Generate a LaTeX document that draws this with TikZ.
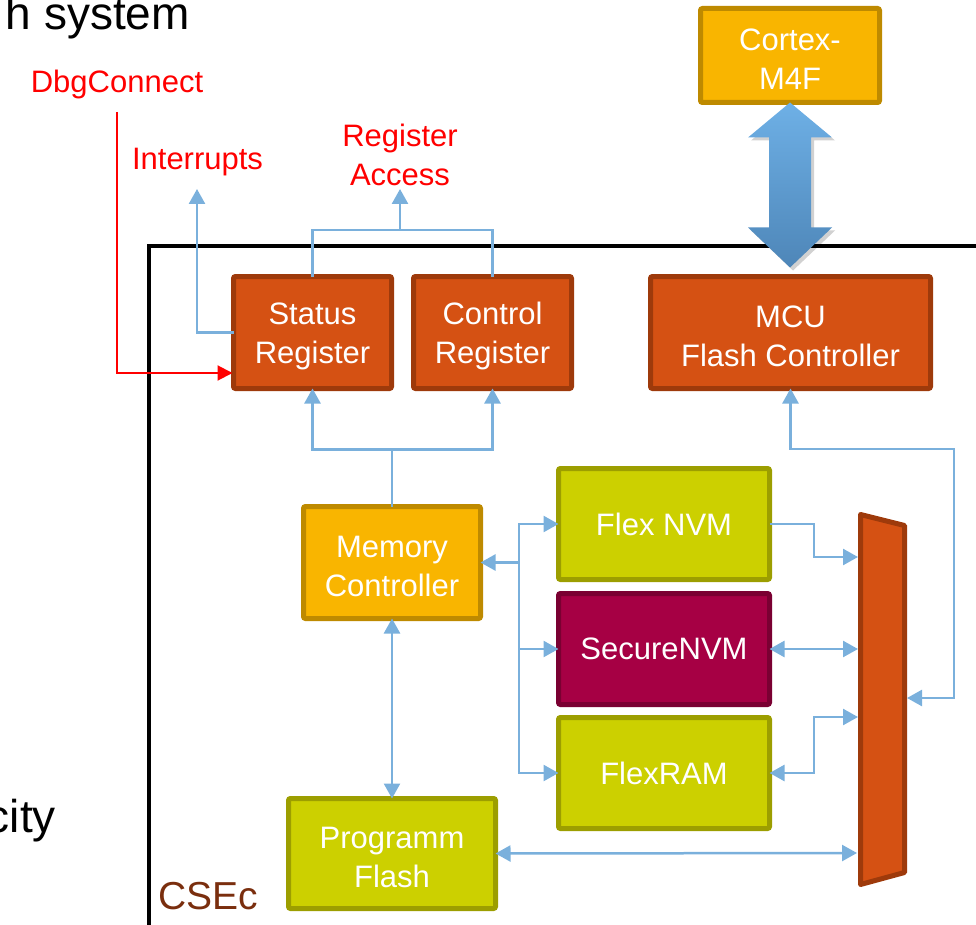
\documentclass[tikz,border=0pt]{standalone}
\usepackage{fontspec}
\setmainfont{Liberation Sans}
\usetikzlibrary{arrows.meta,calc}

\definecolor{regfill}{HTML}{D55113}
\definecolor{regedge}{HTML}{9E3A0B}
\definecolor{ambfill}{HTML}{F9B500}
\definecolor{ambedge}{HTML}{BE8A00}
\definecolor{limfill}{HTML}{CCD000}
\definecolor{limedge}{HTML}{9C9E00}
\definecolor{secfill}{HTML}{A60044}
\definecolor{secedge}{HTML}{7A0032}
\definecolor{wire}{HTML}{7AB0DC}
\definecolor{csec}{HTML}{7A2E0E}
\definecolor{bustop}{HTML}{6EB0E6}
\definecolor{busbot}{HTML}{4E86B8}

\newcommand{\boxfont}{\fontsize{31}{39}\selectfont}
\newcommand{\bigfont}{\fontsize{46}{52}\selectfont}
% extra head room on the first of two lines, so the pair sits a little lower
\newcommand{\toppad}{\rule{0pt}{29pt}}

\tikzset{
  block/.style={draw, line width=5pt, rounded corners=2pt, inner sep=0pt,
    outer sep=0pt, text=white, align=center, font=\boxfont},
  reg/.style={block, fill=regfill, draw=regedge},
  amb/.style={block, fill=ambfill, draw=ambedge},
  lim/.style={block, fill=limfill, draw=limedge},
  sec/.style={block, fill=secfill, draw=secedge},
  tip/.tip={Triangle[length=15pt,width=16pt]},
  conn/.style={draw=wire, line width=2.5pt},
  sig/.style={text=red, align=center, font=\boxfont},
}

\begin{document}
\begin{tikzpicture}[x=1pt,y=-1pt]
\useasboundingbox (0,0) rectangle (976,925);

% surrounding text
\node[anchor=base east, font=\bigfont, inner sep=0pt] (title) at (190,30) {h system};
\node[anchor=base east, font=\bigfont, inner sep=0pt] (city) at (56,832) {city};

% CSEc frame
\draw[line width=4pt] (149,930) -- (149,245.5) -- (980,245.5);
\node[anchor=base west, font=\fontsize{39}{44}\selectfont, text=csec, inner sep=0pt] (csec) at (158,909) {CSEc};

% blocks
\node[amb, minimum width=179pt, minimum height=94pt] (cortex) at (790,55.5) {\toppad Cortex-\\M4F};
\node[reg, minimum width=158pt, minimum height=112pt] (status) at (312.5,332.5) {\toppad Status\\Register};
\node[reg, minimum width=158pt, minimum height=112pt] (control) at (492.5,332.5) {\toppad Control\\Register};
\node[reg, minimum width=280pt, minimum height=112pt] (mcu) at (790.5,332.5) {\toppad MCU\\Flash Controller};
\node[amb, minimum width=177pt, minimum height=112pt] (memctl) at (392,562.5) {\toppad Memory\\Controller};
\node[lim, minimum width=211pt, minimum height=111pt] (flexnvm) at (664,524) {Flex NVM};
\node[sec, minimum width=211pt, minimum height=111pt] (secnvm) at (664,649) {SecureNVM};
\node[lim, minimum width=211pt, minimum height=111pt] (flexram) at (664,773) {FlexRAM};
\node[lim, minimum width=207pt, minimum height=110pt] (pflash) at (392,853.5) {\toppad Programm\\Flash};

% multiplexer
\draw[line width=5pt, draw=regedge, fill=regfill, line join=round]
  (860.5,514.5) -- (904.5,525.5) -- (904.5,872.5) -- (860.5,884.5) -- cycle;
\coordinate (muxA) at (858,557);
\coordinate (muxB) at (858,649);
\coordinate (muxC) at (858,717);
\coordinate (muxD) at (857,853);
\coordinate (muxE) at (907,698);

% signal labels
\node[sig] (dbglbl) at (117,84.5) {DbgConnect};
\node[sig] (intlbl) at (197.5,162) {Interrupts};
\node[sig] (ralbl) at (400,155) {Register\\Access};
\coordinate (dbg) at (117,112);
\coordinate (intr) at (197,189);
\coordinate (ra) at (400,189);
\coordinate (rajoin) at (400,230);

% debug connect
\draw[red, line width=2pt, -{Triangle[length=15pt,width=15pt]}]
  (dbg) |- ([xshift=-1pt,yshift=-40.5pt]status.west);

% register wiring
\draw[conn, -tip] (status.west) -| (intr);
\draw[conn] (status.north) |- (rajoin) -| (control.north);
\draw[conn, -tip] (rajoin) -- (ra);
\draw[conn, tip-tip] (status.south) |- ($(memctl.north)+(0,-57)$) -| (control.south);
\draw[conn] (memctl.north) -- ++(0,-57);

% memory controller fan-out
\coordinate (fan) at (519,562.5);
\draw[conn, tip-] (memctl.east) -- (fan);
\draw[conn, -tip] (fan) |- (flexnvm.west);
\draw[conn, -tip] (fan) |- (secnvm.west);
\draw[conn, -tip] (fan) |- (flexram.west);
\draw[conn, tip-tip] (memctl.south) -- (pflash.north);

% paths into the multiplexer
\draw[conn, -tip] (flexnvm.east) -| (814,540) |- (muxA);
\draw[conn, tip-tip] (secnvm.east) -- (muxB);
\draw[conn, tip-tip] (flexram.east) -| (814,745) |- (muxC);
\draw[conn, tip-tip] (pflash.east) -- (muxD);
\coordinate (ret) at (954,449);
\draw[conn, tip-tip] (mcu.south) |- (ret) |- (muxE);

% system bus between core and flash controller
\fill[black, opacity=0.18]
  ($(cortex.south)+(3,3)$) -- ++(42,35) -- ++(-21,0) -- ++(0,90) -- ++(21,0)
  -- ++(-42,40) -- ++(-42,-40) -- ++(21,0) -- ++(0,-90) -- ++(-21,0) -- cycle;
\shade[top color=bustop, bottom color=busbot]
  (cortex.south) -- ++(42,35) -- ++(-21,0) -- ++(0,90) -- ++(21,0)
  -- ++(-42,40) -- ++(-42,-40) -- ++(21,0) -- ++(0,-90) -- ++(-21,0) -- cycle;
\end{tikzpicture}
\end{document}
